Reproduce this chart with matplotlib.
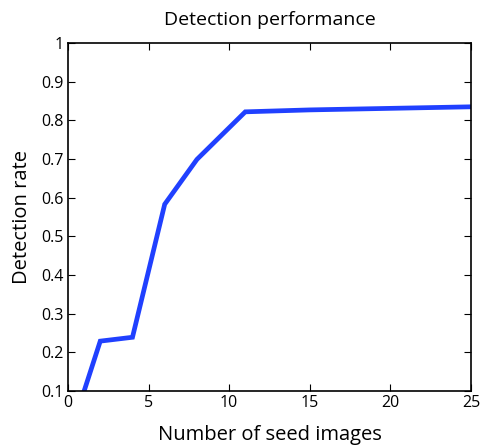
import matplotlib
matplotlib.use("Agg")
import matplotlib.pyplot as plt

seeds = [1, 2, 4, 6, 8, 11, 15, 25]
rate = [0.1, 0.229, 0.239, 0.583, 0.699, 0.822, 0.827, 0.835]

plt.rcParams["font.family"] = ["Open Sans", "DejaVu Sans"]

fig = plt.figure(figsize=(4.81, 4.48), dpi=100)
ax = fig.add_axes([0.1414, 0.1272, 0.8376, 0.7768])
ax.plot(seeds, rate, color="#2040ff", linewidth=3.4, solid_joinstyle="miter")

ax.set_xlim(0, 25)
ax.set_ylim(0.1, 1)
ax.set_xticks([0, 5, 10, 15, 20, 25])
ax.set_yticks([0.1, 0.2, 0.3, 0.4, 0.5, 0.6, 0.7, 0.8, 0.9, 1])
ax.set_yticklabels(["0.1", "0.2", "0.3", "0.4", "0.5", "0.6", "0.7", "0.8", "0.9", "1"])
ax.tick_params(direction="in", top=True, right=True, labelsize=11.5, length=5, pad=3)
for s in ax.spines.values():
    s.set_linewidth(1.2)

ax.set_title("Detection performance", fontsize=14, pad=13)
ax.set_xlabel("Number of seed images", fontsize=14.5, labelpad=10)
ax.set_ylabel("Detection rate", fontsize=14.5, labelpad=7)

fig.savefig("out.png", dpi=100)
